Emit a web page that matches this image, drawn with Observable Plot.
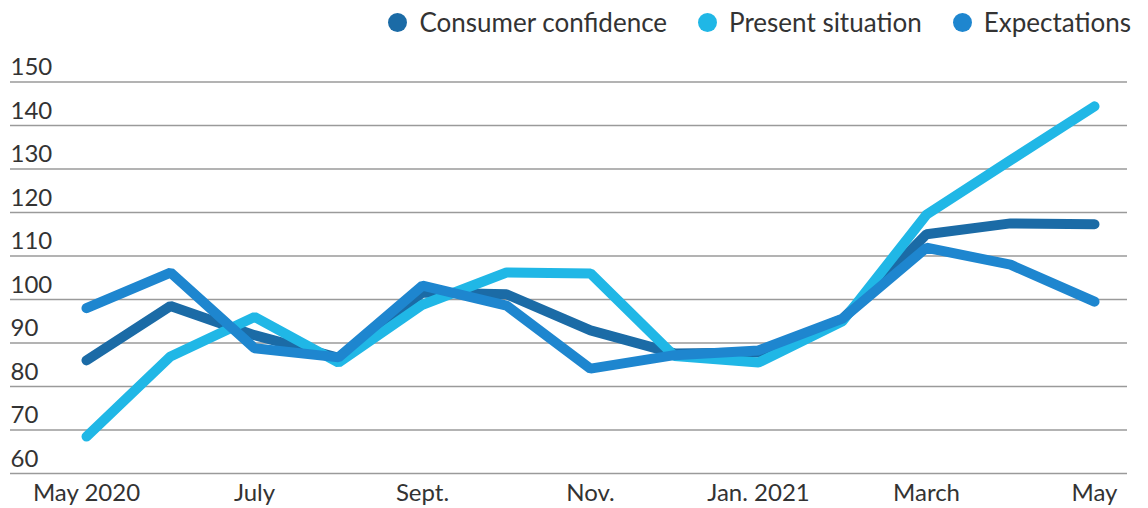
<!DOCTYPE html>
<html>
<head>
<meta charset="utf-8">
<script src="https://cdn.jsdelivr.net/npm/d3@7"></script>
<script src="https://cdn.jsdelivr.net/npm/@observablehq/plot@0.6"></script>
<style>
  html, body { margin: 0; padding: 0; background: #fff; }
  body { width: 1148px; height: 508px; overflow: hidden; font-family: Lato, "Open Sans", sans-serif; color: #333; }
  #legend { height: 44px; display: flex; justify-content: flex-end; align-items: center; padding-right: 17px; font-size: 26px; }
  .item { display: flex; align-items: center; margin-left: 31px; }
  .dot { width: 19px; height: 19px; border-radius: 50%; margin-right: 12px; }
  svg { display: block; }
</style>
</head>
<body>
<div id="legend"></div>
<div id="chart"></div>
<script>
const months = ["2020-05","2020-06","2020-07","2020-08","2020-09","2020-10","2020-11","2020-12","2021-01","2021-02","2021-03","2021-04","2021-05"];
const consumerConfidence = [86, 98.5, 91.8, 86.6, 101.6, 101.2, 92.9, 87.6, 87.8, 95.5, 115, 117.5, 117.3];
const presentSituation   = [68.5, 86.9, 96, 85.5, 98.8, 106.2, 106, 87, 85.5, 95, 119.5, 132, 144.4];
const expectations       = [98, 106.2, 88.8, 86.7, 103.2, 98.6, 84.1, 87.2, 88.3, 95.6, 111.9, 108, 99.5];
const seriesNames = ["Consumer confidence", "Present situation", "Expectations"];
const seriesColors = ["#1b6ba6", "#20b7e6", "#1e86cf"];
const tickMonths = ["2020-05","2020-07","2020-09","2020-11","2021-01","2021-03","2021-05"];
const tickLabels = ["May 2020","July","Sept.","Nov.","Jan. 2021","March","May"];
const yTicks = [60, 70, 80, 90, 100, 110, 120, 130, 140, 150];

const seriesValues = [consumerConfidence, presentSituation, expectations];
const data = seriesNames.flatMap((name, s) => months.map((m, i) => ({series: name, month: m, value: seriesValues[s][i]})));

const legend = document.getElementById("legend");
seriesNames.forEach((n, i) => {
  const it = document.createElement("div");
  it.className = "item";
  it.innerHTML = `<span class="dot" style="background:${seriesColors[i]}"></span><span>${n}</span>`;
  legend.appendChild(it);
});

const chart = Plot.plot({
  width: 1148,
  height: 464,
  marginTop: 37.5,
  marginBottom: 35,
  marginLeft: 10,
  marginRight: 21,
  style: {fontFamily: "Lato, 'Open Sans', sans-serif", fontSize: "24px", color: "#333", background: "#fff"},
  x: {type: "point", domain: months, padding: 0, insetLeft: 70, insetRight: 28, label: null},
  y: {domain: [60, 150], label: null},
  color: {domain: seriesNames, range: seriesColors},
  marks: [
    Plot.gridY(yTicks, {stroke: "#9a9a9a", strokeOpacity: 1, strokeWidth: 1.6}),
    Plot.axisY(yTicks, {anchor: "left", tickSize: 0, tickPadding: 0, textAnchor: "start", dx: 0, dy: -14.5, fill: "#333", label: null}),
    Plot.axisX(tickMonths, {anchor: "bottom", tickSize: 0, tickPadding: 10, tickFormat: (d) => tickLabels[tickMonths.indexOf(d)], fill: "#333", label: null}),
    Plot.line(data, {x: "month", y: "value", z: "series", stroke: "series", strokeWidth: 10, strokeLinecap: "round", strokeLinejoin: "miter"})
  ]
});
document.getElementById("chart").appendChild(chart);
</script>
</body>
</html>
